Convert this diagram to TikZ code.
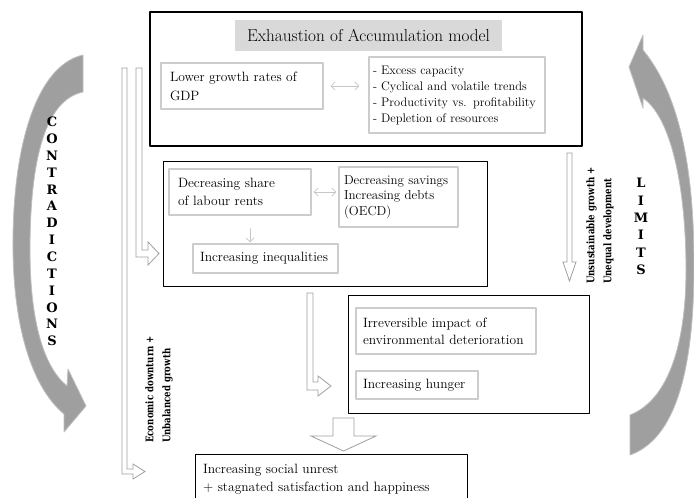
\documentclass[tikz,border=0pt]{standalone}
\usepackage{amsmath,amssymb}
\usepackage{fontspec}
\usepackage{tikz}
\usetikzlibrary{arrows.meta}

\newfontfamily\capfont{DejaVu Serif}
\newfontfamily\heavyfont[FakeStretch=0.82]{DejaVu Serif}

\tikzset{
  holder/.style={draw=black,line width=0.8pt,inner sep=0pt},
  item/.style={draw=gray!40,line width=1.2pt,fill=white,align=left,inner xsep=9pt,inner ysep=0pt,font=\fontsize{13.5}{18}\selectfont},
  twoway/.style={<->,draw=gray!45,line width=0.7pt},
  hollow/.style={draw=gray!75,line width=0.8pt,fill=white,line join=miter},
  swing/.style={fill=gray!75,draw=gray!50,line width=0.8pt},
  letter/.style={inner sep=0pt,font=\capfont\bfseries\fontsize{13}{13}\selectfont},
  sidenote/.style={rotate=90,anchor=west,align=left,inner sep=0pt,font=\heavyfont\bfseries\fontsize{10.5}{17}\selectfont}
}

\begin{document}
\begin{tikzpicture}[line cap=round,line join=round,>={Straight Barb[length=4pt,width=8pt]},x=1pt,y=-1pt]
        \useasboundingbox (0,0) rectangle (694,498);
        \clip (0,0) rectangle (694,498);
        \fill[white] (0,0) rectangle (694,498);
        % containers
        \node[holder,line width=1.5pt,minimum width=432pt,minimum height=134pt] (accum) at (366,79) {};
        \node[holder,minimum width=324pt,minimum height=125pt] (econ) at (325,223.5) {};
        \node[holder,minimum width=241pt,minimum height=118pt] (envir) at (468.5,354) {};
        % boxes
        \node[fill=gray!30,minimum width=267pt,minimum height=31pt,inner sep=0pt,font=\fontsize{17.2}{20}\selectfont] (title) at (368.5,35.5) {Exhaustion of Accumulation model};
        \node[item,text width=144pt,minimum height=46pt,font=\fontsize{13.5}{19}\selectfont] (lgdp) at (242,86) {Lower growth rates of\\GDP};
        \node[item,inner xsep=4pt,text width=168pt,minimum height=76pt,font=\fontsize{12.4}{16}\selectfont] (excess) at (457,95) {- Excess capacity\\- Cyclical and volatile trends\\- Productivity vs. profitability\\- Depletion of resources};
        \node[item,text width=124pt,minimum height=46pt] (share) at (240,192) {Decreasing share\\of labour rents};
        \node[item,inner xsep=5pt,text width=109pt,minimum height=60pt,font=\fontsize{13}{15.5}\selectfont] (savings) at (398.5,197) {\mbox{Decreasing savings}\\\mbox{Increasing debts}\\(OECD)};
        \node[item,inner xsep=7pt,text width=131pt,minimum height=29pt] (ineq) at (265.5,258.5) {Increasing inequalities};
        \node[item,inner xsep=7pt,text width=166pt,minimum height=46pt,font=\fontsize{13.5}{17}\selectfont] (irrev) at (446,331) {Irreversible impact of\\\mbox{environmental deterioration}};
        \node[item,inner xsep=7pt,text width=108pt,minimum height=28pt] (hunger) at (417,385) {Increasing hunger};
        \node[holder,align=left,inner xsep=8pt,text width=256pt,minimum height=51pt,font=\fontsize{13.5}{18}\selectfont] (unrest) at (331,479.5) {Increasing social unrest\\+ stagnated satisfaction and happiness};
        % connectors
        \draw[twoway,shorten <=7pt,shorten >=9pt] (lgdp.east) -- (lgdp.east -| excess.west);
        \draw[twoway,shorten <=2pt,shorten >=2pt] (share.east) -- (share.east -| savings.west);
        \coordinate (dn) at ([xshift=10pt]share.south);
        \draw[->,draw=gray!45,line width=0.7pt,shorten <=13pt,shorten >=1pt] (dn) -- (dn |- ineq.north);
        % hollow arrows
        \draw[hollow] (122,68) -- (127,68) -- (127,469) -- (133,469) -- (133,464) -- (145,471.5) -- (133,479) -- (133,474) -- (122,474) -- cycle;
        \draw[hollow] (136,68) -- (142,68) -- (142,250) -- (148,250) -- (148,242) -- (159,253.5) -- (148,265) -- (148,257) -- (136,257) -- cycle;
        \draw[hollow] (307,293) -- (313,293) -- (313,382) -- (318,382) -- (318,376) -- (331,386) -- (318,396) -- (318,390) -- (307,390) -- cycle;
        \draw[hollow] (567,153) -- (572,153) -- (572,262) -- (576,262) -- (569.5,281) -- (563,262) -- (567,262) -- cycle;
        \draw[hollow] (333,418) -- (354,418) -- (354,436) -- (376,436) -- (343.5,451) -- (311,436) -- (333,436) -- cycle;
        % swinging arrows
        \draw[swing] (83,55) .. controls (35,66) and (12,150) .. (13,250) .. controls (14,335) and (35,390) .. (64,414) -- (64,432) -- (86,406) -- (68,369) -- (67,386) .. controls (45,368) and (30,325) .. (30,250) .. controls (30,160) and (45,100) .. (83,92) -- cycle;
        \draw[swing] (630,455) .. controls (672,440) and (694,380) .. (694,265) .. controls (694,170) and (680,95) .. (643,50) -- (643,35) -- (629,67) -- (643,108) -- (643,98) .. controls (672,118) and (686,190) .. (686,270) .. controls (686,345) and (668,400) .. (630,415) -- cycle;
        % letters
        \foreach \ch [count=\i] in {C,O,N,T,R,A,D,I,C,T,I,O,N,S}
            \node[letter] (con\i) at (52,{105.15+16.85*\i}) {\ch};
        \foreach \ch [count=\i] in {L,I,M,I,T,S}
            \node[letter] (lim\i) at (641,{165.6+17.4*\i}) {\ch};
        % side notes
        \node[sidenote] (downturn) at (159,443) {Economic downturn +\\Unbalanced growth};
        \node[sidenote] (unsust) at (600,284) {Unsustainable growth +\\Unequal development};
    \end{tikzpicture}
\end{document}
